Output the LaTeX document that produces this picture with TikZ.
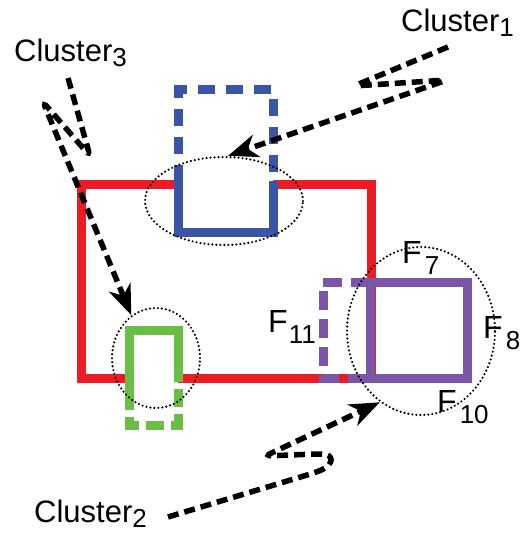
\documentclass[tikz,border=0pt]{standalone}
\usepackage{fontspec}
\setmainfont{Liberation Sans}
\definecolor{framered}{RGB}{237,28,36}
\definecolor{clusterblue}{RGB}{58,85,165}
\definecolor{clustergreen}{RGB}{106,189,69}
\definecolor{clusterpurple}{RGB}{123,85,166}
\usetikzlibrary{shapes.geometric,arrows.meta}
\newcommand{\csub}[1]{\raisebox{-5pt}{\fontsize{26}{30}\selectfont #1}}
\newcommand{\fsub}[1]{\raisebox{-11pt}{\fontsize{26}{30}\selectfont #1}}

\begin{document}
\begin{tikzpicture}[
        x=1pt,y=-1pt,
        wall/.style={line width=9pt},
        ghost/.style={line width=9pt,dash pattern=on 17pt off 11pt},
        zone/.style={draw,ellipse,inner sep=0pt,line width=2.4pt,line cap=round,dash pattern=on 0pt off 4pt},
        pointer/.style={line width=5.5pt,dash pattern=on 11pt off 6pt,rounded corners=6pt,-{Stealth[length=30pt,width=23pt,inset=9pt]}},
        tag/.style={anchor=base west,inner sep=0pt,font=\fontsize{31}{37}\selectfont},
        ftag/.style={anchor=base west,inner sep=0pt,font=\fontsize{32}{38}\selectfont}
    ]
    \useasboundingbox (0,0) rectangle (519,534);

    % outer frame
    \draw[wall,framered] (273,185) -- (371,185) -- (371,378) -- (178,378)
        (129,378) -- (81,378) -- (81,185) -- (178,185);

    % blue cluster
    \draw[wall,clusterblue] (178,165) -- (178,232) -- (273,232) -- (273,181);
    \draw[ghost,clusterblue,dash phase=17pt] (178,165) -- (178,90) -- (273,90) -- (273,181);

    % green cluster
    \draw[wall,clustergreen] (129,398) -- (129,330) -- (178,330) -- (178,382);
    \draw[ghost,clustergreen,dash pattern=on 18pt off 7pt,dash phase=18pt] (178,382) -- (178,425) -- (129,425) -- (129,398);

    % purple cluster
    \draw[ghost,clusterpurple,dash pattern=on 19pt off 9pt] (370,282) -- (323,282) -- (323,378) -- (370,378);
    \draw[wall,clusterpurple] (370,282) rectangle (467,378);

    \node[zone,minimum width=158pt,minimum height=88pt] (e1) at (224,201) {};
    \node[zone,minimum width=88pt,minimum height=100pt] (e3) at (156,358) {};
    \node[zone,minimum width=148pt,minimum height=168pt] (e2) at (421,331) {};

    \node[tag] (c1) at (401,32) {Cluster\csub{1}};
    \node[tag] (c3) at (14,62) {Cluster\csub{3}};
    \node[tag] (c2) at (34,522) {Cluster\csub{2}};

    \node[ftag] (f7) at (402,263) {F\kern3pt\fsub{7}};
    \node[ftag] (f8) at (483,338) {F\kern3pt\fsub{8}};
    \node[ftag] (f10) at (437,412) {F\kern3pt\fsub{10}};
    \node[ftag] (f11) at (268,332) {F\kern1pt\fsub{11}};

    \coordinate (t1) at (448,47);
    \coordinate (t3) at (68,78);
    \coordinate (t2) at (168,517);

    \draw[pointer] (t1) -- (354,86) -- (447,80) -- (e1.85);
    \draw[pointer] (t3) -- (90,156) -- (43,102) -- (e3.120);
    \draw[pointer] (t2) -- (317,472) .. controls (334,464) and (334,454) .. (316,454) -- (265,456) -- (e2.240);
\end{tikzpicture}
\end{document}
